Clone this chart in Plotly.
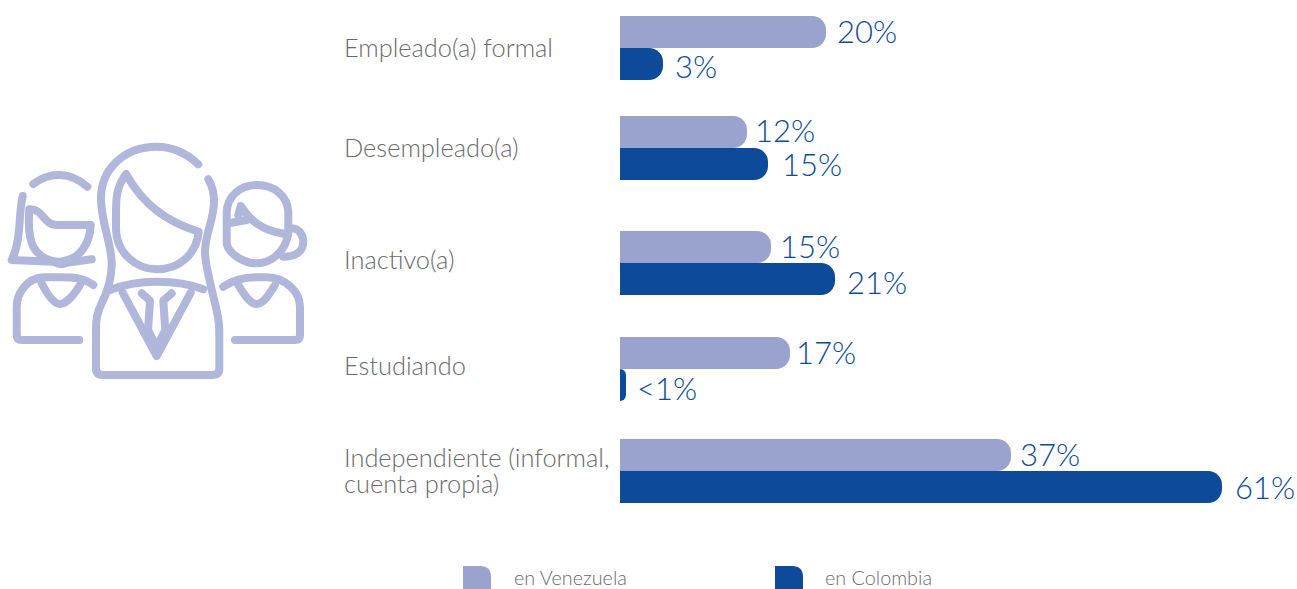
import re
import plotly.graph_objects as go

# ---- data -------------------------------------------------------------
categories = ["Empleado(a) formal", "Desempleado(a)", "Inactivo(a)", "Estudiando",
              "Independiente (informal,|cuenta propia)"]
venezuela_bar = [20.6, 12.7, 15.1, 17.0, 39.1]
colombia_bar = [4.3, 14.8, 21.5, 0.6, 60.2]
venezuela_labels = ["20%", "12%", "15%", "17%", "37%"]
colombia_labels = ["3%", "15%", "21%", "<1%", "61%"]
row_centres = [48, 148, 263, 369, 471]

# ---- style / layout ----------------------------------------------------
W, H = 1297, 589
LIGHT, DARK, ICON, GREY, BLUE = "#9AA2CE", "#0D4B9A", "#B0B7DA", "#6A6B6D", "#0D4B9A"
FONT = "Lato"
BAR_H = 32
PX_PER_UNIT = 10
X0 = 620
LIGHT_DY = [-1, -2, -1, -1, -1]
DARK_DY = [2, 0, 3, 3, 0]
LIGHT_GAP = [12, 9, 10, 7, 10]
DARK_GAP = [12, 14, 12, 11, 13]
CAT_Y = [47, 147, 259, 365, (457, 483)]

fig = go.Figure()
fig.add_bar(name="en Venezuela", y=[c - BAR_H / 2 for c in row_centres], x=venezuela_bar,
            orientation="h", width=BAR_H, marker=dict(color=LIGHT, line_width=0), showlegend=False,
            hoverinfo="skip")
fig.add_bar(name="en Colombia", y=[c + BAR_H / 2 for c in row_centres], x=colombia_bar,
            orientation="h", width=BAR_H, marker=dict(color=DARK, line_width=0), showlegend=False,
            hoverinfo="skip")

ann = []
def label(x, y, text, size, color, xref="x2", xshift=0):
    ann.append(dict(x=x, y=y, text=text, xref=xref, yref="y", xanchor="left", yanchor="middle",
                    xshift=xshift, showarrow=False, align="left",
                    font=dict(family=FONT, size=size, color=color, weight=300), borderpad=0))

for i in range(len(categories)):
    parts = categories[i].split("|")
    ys = CAT_Y[i] if isinstance(CAT_Y[i], tuple) else (CAT_Y[i],)
    for t, y in zip(parts, ys):
        label(343, y, t, 25.4, GREY)
    label(venezuela_bar[i], row_centres[i] - BAR_H / 2 + LIGHT_DY[i], venezuela_labels[i].replace("<", "&lt;"),
          31, BLUE, "x", LIGHT_GAP[i] - 2)
    label(colombia_bar[i], row_centres[i] + BAR_H / 2 + DARK_DY[i], colombia_labels[i].replace("<", "&lt;"),
          31, BLUE, "x", DARK_GAP[i] - 1)

label(513, 577, "en Venezuela", 19.8, GREY)
label(824, 577, "en Colombia", 19.8, GREY)

# decorative icon, traced in a 3x crop of the reference
ICON_PATHS = [
    "M595,103 C560,70 520,50 470,50 C370,50 303,120 303,205 C303,280 335,340 335,400 C335,450 320,490 305,520 C290,550 288,570 288,600 L288,715 Q288,735 308,735 L638,735 Q658,735 658,715 L658,600 C658,560 645,520 635,480 C625,430 615,400 615,365 C615,310 642,270 642,215 C642,190 635,165 625,148",
    "M378,132 C350,170 348,200 348,250 L348,300 C350,370 410,418 470,418 C540,418 590,370 596,305 C500,275 430,225 378,132 Z",
    "M330,480 C380,460 430,455 470,455 C520,455 570,462 610,478",
    "M368,488 L470,678 L572,488",
    "M425,490 L450,512 L444,600 L470,652 L496,600 L490,512 L515,490",
    "M100,162 C150,125 210,125 262,170",
    "M68,198 C55,250 65,330 35,390 L160,395 Q180,408 200,398 L275,388",
    "M88,240 C85,280 85,320 100,350 C120,385 150,395 180,395 C240,390 270,340 272,285 L170,285 C130,285 130,235 88,238 Z",
    "M280,465 C250,445 230,442 180,442 L130,442 C80,445 50,490 50,530 L50,615 Q50,630 65,630 L238,630",
    "M125,460 C140,490 160,522 180,522 C200,522 225,490 240,465",
    "M865,310 L865,250 C865,195 820,165 770,165 C720,165 680,200 680,250 L680,340 C685,370 730,400 770,400 C810,400 855,370 865,310",
    "M695,278 L740,270",
    "M715,255 L722,228 C750,270 780,300 855,312",
    "M875,295 C900,295 910,320 910,335 C910,365 885,380 850,380",
    "M670,470 C700,450 730,442 770,442 L800,442 C860,442 900,490 900,530 L900,615 Q900,630 885,630 L705,630",
    "M715,465 C730,490 750,522 770,522 C790,522 810,490 825,465",
]

def crop_to_page(path):
    def rep(m):
        return f"{float(m.group(1)) / 3:.1f},{130 + float(m.group(2)) / 3:.1f}"
    return re.sub(r"(-?[\d.]+),(-?[\d.]+)", rep, path)

shapes = [dict(type="path", xref="x2", yref="y", path=crop_to_page(p), layer="below",
               line=dict(color=ICON, width=8), fillcolor="rgba(0,0,0,0)") for p in ICON_PATHS]

for x, col in [(463, LIGHT), (775, DARK)]:
    shapes.append(dict(type="path", xref="x2", yref="y", line_width=0, fillcolor=col,
                       path=f"M{x},566 L{x+17},566 Q{x+28},566 {x+28},577 L{x+28},589 L{x},589 Z"))

fig.update_layout(
    width=W, height=H, autosize=False, margin=dict(l=0, r=0, t=0, b=0),
    plot_bgcolor="rgba(0,0,0,0)", paper_bgcolor="white", barmode="overlay", barcornerradius=14,
    showlegend=False, annotations=ann, shapes=shapes,
    xaxis=dict(domain=[X0 / W, 1], range=[0, (W - X0) / PX_PER_UNIT], visible=False, fixedrange=True),
    yaxis=dict(domain=[0, 1], range=[H, 0], visible=False, fixedrange=True),
    xaxis2=dict(domain=[0, 1], range=[0, W], visible=False, anchor="y", fixedrange=True),
)
# invisible anchor so the page-wide x axis is built
fig.add_scatter(x=[0], y=[0], xaxis="x2", yaxis="y", mode="markers", marker_opacity=0, hoverinfo="skip", showlegend=False)

post = """
document.body.style.margin = '0';
document.documentElement.style.overflow = 'hidden';
document.querySelectorAll('.shapelayer path').forEach(function (p) {
  p.style.strokeLinecap = 'round'; p.style.strokeLinejoin = 'round';
});
"""
fig.write_html("out.html", post_script=post, config=dict(displayModeBar=False))
